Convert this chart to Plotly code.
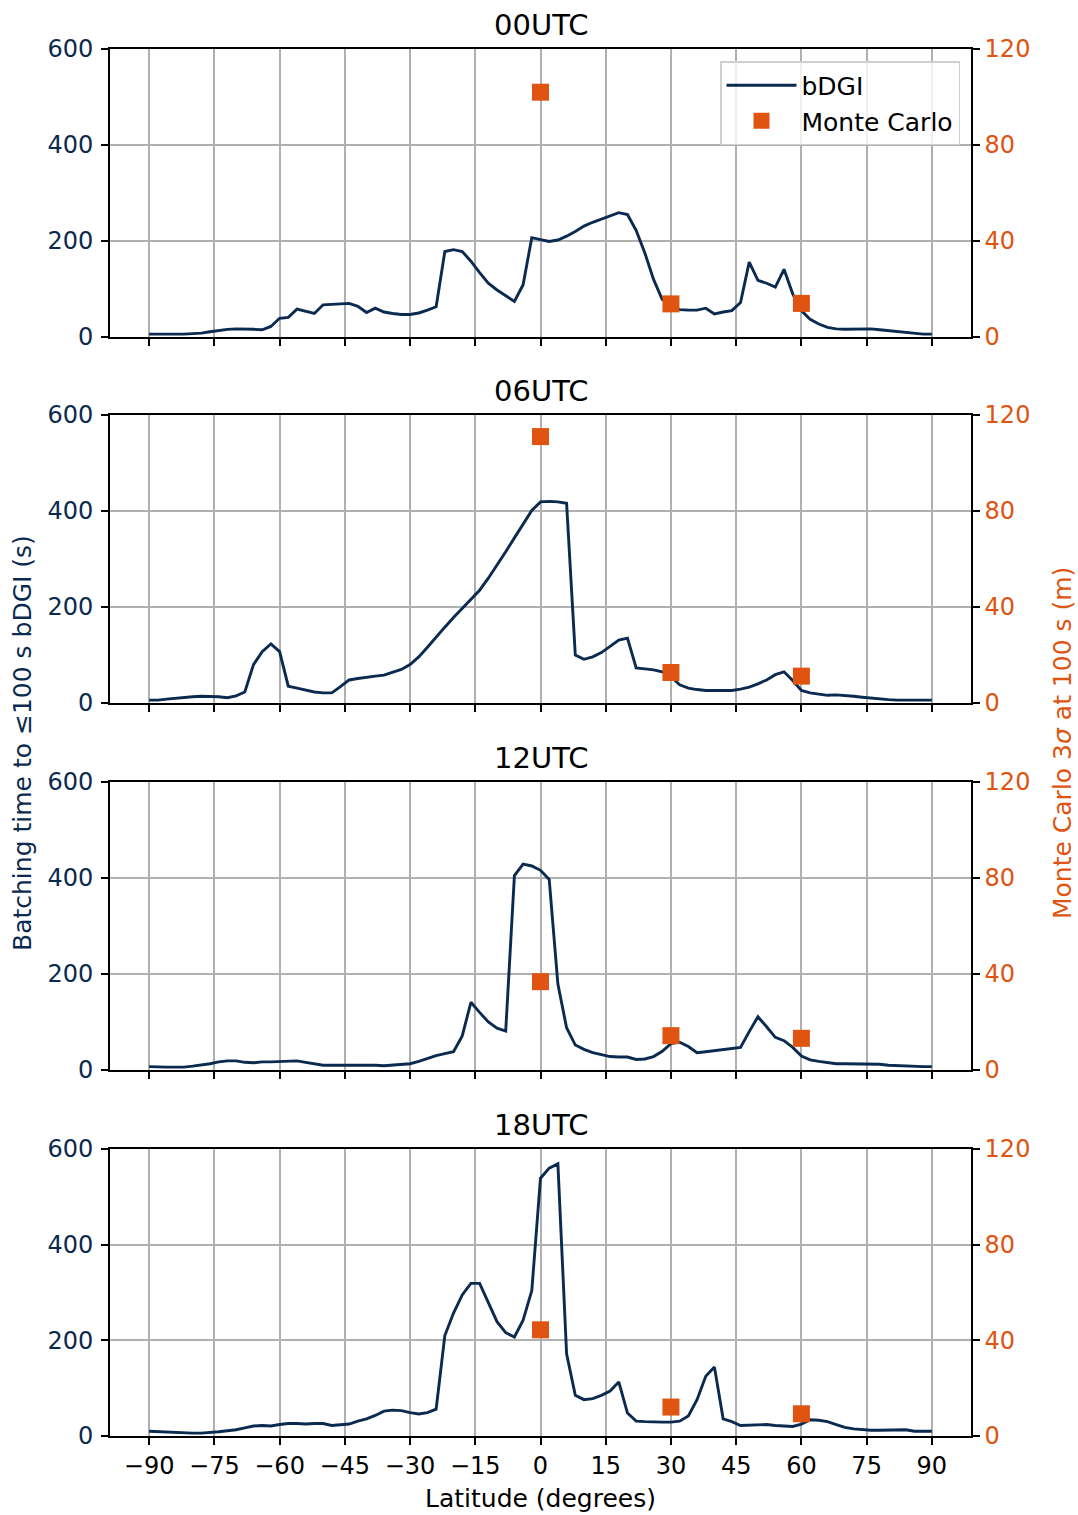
import plotly.graph_objects as go

# Latitude grid (degrees) shared by all four forecast times
lat = list(range(-90, 91, 2))

# Batching time to reach <=100 s bDGI (s), one series per UTC hour
bdgi_00 = [6, 6, 5, 5, 6, 7, 8, 11, 14, 16, 17, 17, 16, 15, 22, 39, 41, 58, 53, 49,
           67, 68, 69, 70, 64, 51, 60, 52, 49, 47, 47, 50, 56, 63, 178, 182, 178, 158, 134, 112,
           98, 86, 74, 109, 207, 203, 199, 202, 210, 220, 231, 239, 246, 252, 259, 255, 222, 175, 120, 78,
           68, 57, 56, 56, 60, 48, 52, 55, 72, 156, 118, 112, 104, 141, 90, 55, 37, 27, 20, 17,
           16, 16, 16, 17, 15, 13, 11, 9, 7, 6, 6]
bdgi_06 = [6, 6, 8, 10, 12, 13, 14, 14, 13, 11, 15, 23, 80, 107, 123, 107, 35, 31, 27, 23,
           21, 21, 34, 48, 51, 54, 56, 58, 64, 70, 80, 96, 116, 138, 158, 178, 197, 215, 235, 260,
           287, 315, 344, 372, 401, 419, 420, 419, 416, 100, 91, 96, 105, 118, 131, 135, 73, 71, 69, 65,
           55, 38, 31, 28, 26, 26, 26, 26, 29, 33, 40, 48, 59, 65, 47, 26, 21, 18, 16, 17,
           16, 14, 12, 10, 8, 7, 6, 6, 6, 6, 6]
bdgi_12 = [7, 6, 6, 6, 6, 8, 10, 13, 17, 19, 19, 16, 15, 17, 17, 18, 19, 19, 16, 13,
           10, 10, 10, 10, 11, 11, 10, 9, 10, 11, 13, 18, 24, 30, 34, 38, 71, 141, 120, 100,
           87, 81, 405, 429, 425, 416, 397, 179, 88, 52, 43, 36, 32, 28, 27, 27, 22, 23, 28, 39,
           55, 58, 49, 36, 38, 40, 43, 45, 47, 80, 111, 90, 68, 61, 47, 29, 21, 18, 15, 13,
           13, 13, 13, 13, 12, 10, 9, 8, 7, 7, 7]
bdgi_18 = [10, 9, 8, 7, 6, 6, 6, 7, 9, 11, 13, 17, 21, 22, 21, 24, 26, 26, 25, 26,
           26, 22, 23, 25, 31, 36, 43, 52, 54, 53, 49, 46, 49, 56, 210, 257, 295, 319, 319, 280,
           239, 216, 207, 242, 304, 539, 560, 569, 172, 85, 76, 78, 85, 94, 113, 48, 31, 30, 29, 29,
           29, 31, 42, 76, 125, 144, 36, 30, 22, 23, 23, 24, 22, 21, 20, 25, 34, 33, 30, 24,
           18, 15, 13, 12, 12, 12, 12, 13, 10, 10, 10]

# Monte Carlo 3-sigma position error at 100 s (m)
mc_lat = [0, 30, 60]
mc_00 = [102, 13.8, 14.0]
mc_06 = [111, 12.7, 11.2]
mc_12 = [36.8, 14.3, 13.2]
mc_18 = [44.4, 12.1, 9.3]

panel_titles = ["00UTC", "06UTC", "12UTC", "18UTC"]
x_ticks = list(range(-90, 91, 15))
left_ticks = [0, 200, 400, 600]
right_ticks = [0, 40, 80, 120]

NAVY = "#0b2a4f"
ORANGE = "#de5410"
GRID = "#b0b0b0"
FONT = "DejaVu Sans"
TICK_SIZE = 24
LABEL_SIZE = 25
TITLE_SIZE = 29

W, H = 1078, 1515
ML, MR, MT, MB = 110, 107, 49, 79
plot_w = W - ML - MR
plot_h = H - MT - MB

# pixel extents (top, bottom) of each panel
panel_px = [(49, 337), (415, 703), (782, 1070), (1149, 1436)]


def py2paper(py):
    return (H - MB - py) / plot_h


def px2paper(px):
    return (px - ML) / plot_w


fig = go.Figure()
series = [(bdgi_00, mc_00), (bdgi_06, mc_06), (bdgi_12, mc_12), (bdgi_18, mc_18)]

for i, (bd, mc) in enumerate(series):
    n = i + 1
    xa = "x" if n == 1 else f"x{n}"
    yl = 2 * n - 1
    yr = 2 * n
    ya_l = "y" if yl == 1 else f"y{yl}"
    ya_r = f"y{yr}"
    fig.add_trace(go.Scatter(
        x=lat, y=bd, mode="lines", name="bDGI",
        line=dict(color=NAVY, width=2.9),
        xaxis=xa, yaxis=ya_l, showlegend=(n == 1), legendrank=1,
    ))
    fig.add_trace(go.Scatter(
        x=mc_lat, y=mc, mode="markers", name="Monte Carlo",
        marker=dict(symbol="square", size=17, color=ORANGE),
        xaxis=xa, yaxis=ya_r, showlegend=(n == 1), legendrank=2,
    ))

    top, bot = panel_px[i]
    dom = [py2paper(bot), py2paper(top)]
    xkey = "xaxis" if n == 1 else f"xaxis{n}"
    ylkey = "yaxis" if yl == 1 else f"yaxis{yl}"
    yrkey = f"yaxis{yr}"

    fig.layout[xkey] = dict(
        domain=[0, 1], anchor=ya_l, range=[-99, 99],
        tickmode="array", tickvals=x_ticks,
        ticktext=[f"\u2212{abs(v)}" if v < 0 else str(v) for v in x_ticks],
        showticklabels=(n == 4),
        ticks="outside", ticklen=7, tickwidth=1.5, tickcolor="black",
        showline=True, linecolor="black", linewidth=1.6, mirror=True,
        showgrid=True, gridcolor=GRID, gridwidth=1.5, zeroline=False,
        tickfont=dict(family=FONT, size=TICK_SIZE, color="black"),
    )
    fig.layout[ylkey] = dict(
        domain=dom, anchor=xa, range=[0, 600],
        tickmode="array", tickvals=left_ticks,
        ticks="outside", ticklen=7, tickwidth=1.5, tickcolor="black",
        ticklabelstandoff=3,
        showline=True, linecolor="black", linewidth=1.6,
        showgrid=True, gridcolor=GRID, gridwidth=1.5, zeroline=False,
        tickfont=dict(family=FONT, size=TICK_SIZE, color=NAVY),
    )
    fig.layout[yrkey] = dict(
        overlaying=ya_l, side="right", anchor=xa, range=[0, 120],
        tickmode="array", tickvals=right_ticks,
        ticks="outside", ticklen=7, tickwidth=1.5, tickcolor="black",
        showline=True, linecolor="black", linewidth=1.6,
        showgrid=False, zeroline=False,
        tickfont=dict(family=FONT, size=TICK_SIZE, color=ORANGE),
    )
    fig.add_annotation(
        text=panel_titles[i], x=0.5, xref="paper", xanchor="center",
        y=py2paper(top - 24), yref="paper", yanchor="middle",
        showarrow=False, font=dict(family=FONT, size=TITLE_SIZE, color="black"),
    )

fig.add_annotation(
    text="Latitude (degrees)", x=0.5, xref="paper", xanchor="center",
    y=py2paper(1498), yref="paper", yanchor="middle", showarrow=False,
    font=dict(family=FONT, size=LABEL_SIZE, color="black"),
)

mid = py2paper(743)
fig.add_annotation(
    text="Batching time to \u2264100 s bDGI (s)", textangle=-90,
    x=px2paper(22), xref="paper", xanchor="center",
    y=mid, yref="paper", yanchor="middle", showarrow=False,
    font=dict(family=FONT, size=LABEL_SIZE, color=NAVY),
)
fig.add_annotation(
    text="Monte Carlo 3<i>\u03c3</i> at 100 s (m)", textangle=-90,
    x=px2paper(1062), xref="paper", xanchor="center",
    y=mid, yref="paper", yanchor="middle", showarrow=False,
    font=dict(family=FONT, size=LABEL_SIZE, color=ORANGE),
)

fig.update_layout(
    width=W, height=H,
    margin=dict(l=ML, r=MR, t=MT, b=MB),
    paper_bgcolor="white", plot_bgcolor="white",
    font=dict(family=FONT, size=TICK_SIZE, color="black"),
    legend=dict(
        x=px2paper(960), xanchor="right",
        y=py2paper(61), yanchor="top",
        bgcolor="rgba(255,255,255,0.8)", bordercolor="#d0d0d0", borderwidth=1.5,
        font=dict(family=FONT, size=LABEL_SIZE, color="black"),
        itemwidth=70, tracegroupgap=4,
    ),
)

fig.write_html("out.html")
